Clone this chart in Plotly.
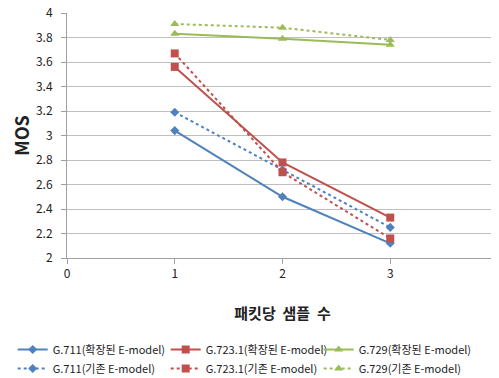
import plotly.graph_objects as go

x_vals = [1, 2, 3]
g711_ext = [3.04, 2.50, 2.12]
g7231_ext = [3.56, 2.78, 2.33]
g729_ext = [3.83, 3.79, 3.74]
g711_old = [3.19, 2.72, 2.25]
g7231_old = [3.67, 2.70, 2.16]
g729_old = [3.91, 3.88, 3.78]

names = ["G.711(확장된 E-model)", "G.723.1(확장된 E-model)", "G.729(확장된 E-model)",
         "G.711(기존 E-model)", "G.723.1(기존 E-model)", "G.729(기존 E-model)"]
series = [g711_ext, g7231_ext, g729_ext, g711_old, g7231_old, g729_old]
colors = ["#4F81BD", "#C0504D", "#9BBB59"] * 2
symbols = ["diamond", "square", "triangle-up"] * 2
sizes = [7, 8, 8] * 2
dashes = ["solid"] * 3 + ["dot"] * 3

fig = go.Figure()
for n, s, c, sym, sz, d in zip(names, series, colors, symbols, sizes, dashes):
    fig.add_trace(go.Scatter(
        x=x_vals, y=s, name=n, mode="lines+markers",
        line=dict(color=c, width=2, dash=d),
        marker=dict(symbol=sym, size=sz, color=c),
    ))

font = "Noto Sans CJK KR, Noto Sans, sans-serif"
fig.update_layout(
    width=499, height=378,
    margin=dict(l=59, r=9, t=5, b=128, autoexpand=False),
    paper_bgcolor="white", plot_bgcolor="white",
    font=dict(family=font, size=12, color="#222"),
    showlegend=True,
    legend=dict(orientation="h", x=-0.126, xanchor="left", y=-0.314, yanchor="top",
                entrywidth=108, entrywidthmode="pixels",
                font=dict(size=11, color="#222"),
                tracegroupgap=0, itemwidth=30),
    xaxis=dict(range=[0, 4], dtick=1, showgrid=False, zeroline=False, automargin=False,
               showline=True, linecolor="#A0A0A0", ticks="outside", ticklen=5,
               tickcolor="#A0A0A0", tickfont=dict(size=12), ticklabeloverflow="allow",
               title=dict(text="<b>패킷당  샘플  수</b>", font=dict(size=15), standoff=28)),
    yaxis=dict(range=[2, 4], dtick=0.2, showgrid=True, gridcolor="#BFBFBF",
               zeroline=False, showline=True, linecolor="#A0A0A0", ticks="outside",
               ticklen=5, tickcolor="#A0A0A0", tickfont=dict(size=12), automargin=False,
               ticklabelstandoff=6, ticklabeloverflow="allow",
               title=dict(text="<b>MOS</b>", font=dict(size=18), standoff=14)),
)
fig.write_html("out.html")
